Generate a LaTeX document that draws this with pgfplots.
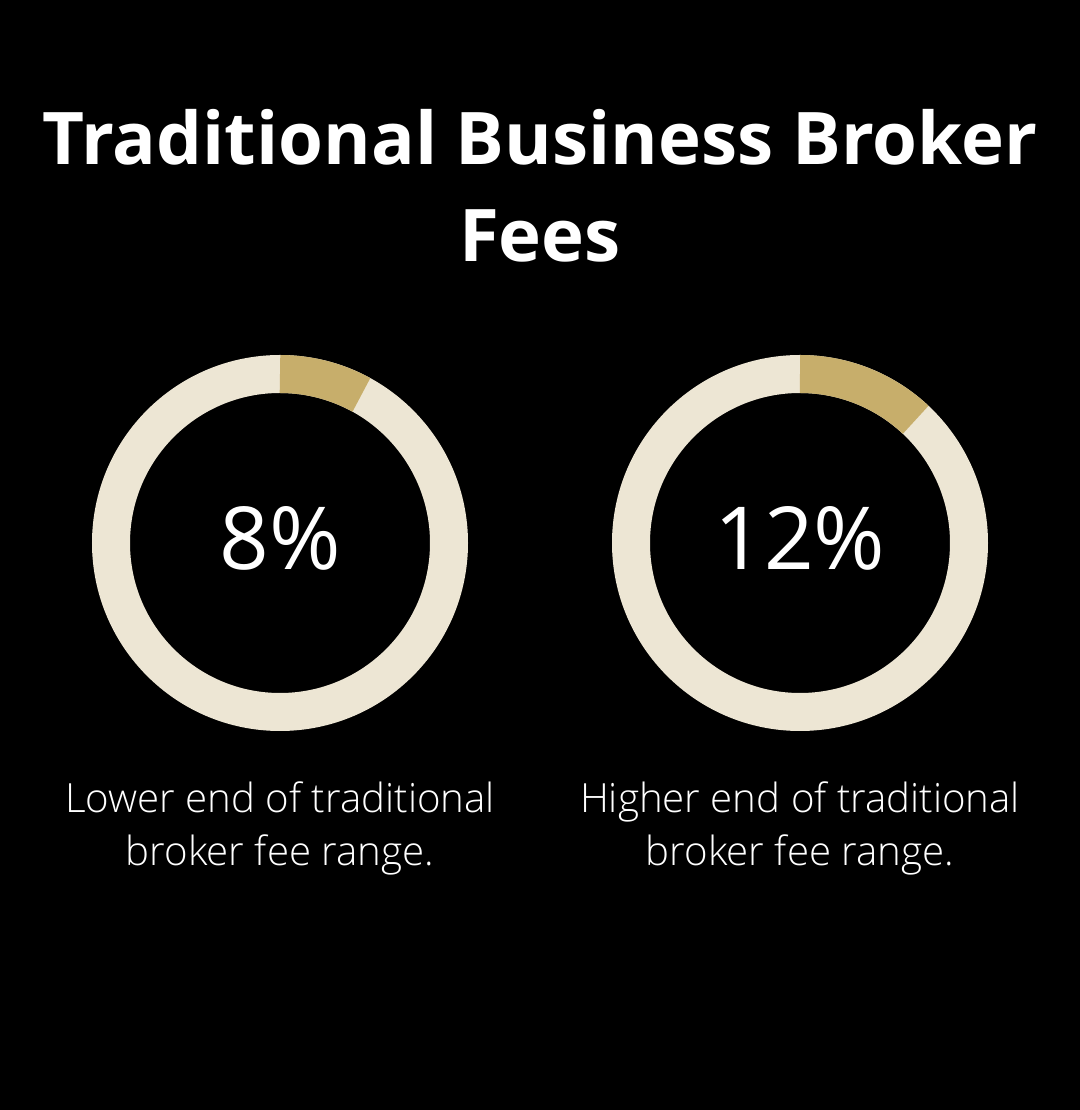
\documentclass[border=0pt]{standalone}
\usepackage{pgfplots}
\pgfplotsset{compat=1.18}
\usepackage{fontspec}
\setmainfont{Open Sans}
\newfontfamily\lightfont{Open Sans Light}
\definecolor{ringbg}{HTML}{EDE6D4}
\definecolor{ringfg}{HTML}{C7AE6B}

% share of each ring (percent)
\def\valA{8}
\def\valB{12}
\pgfmathsetmacro\endA{90-3.6*\valA}
\pgfmathsetmacro\endB{90-3.6*\valB}

\begin{document}
\begin{tikzpicture}
\begin{axis}[
  scale only axis, width=540pt, height=555pt,
  xmin=0, xmax=1080, ymin=0, ymax=1110,
  hide axis, clip=false,
]
\fill[black] (axis cs:0,0) rectangle (axis cs:1080,1110);

% title
\node[anchor=base, text=white, font=\bfseries\fontsize{36.3}{44}\selectfont]
  at (axis cs:540,945) {Traditional Business Broker};
\node[anchor=base, text=white, font=\bfseries\fontsize{36.3}{44}\selectfont]
  at (axis cs:540,848) {Fees};

% rings
\draw[ringbg, line width=19pt] (axis cs:280,567) circle[radius=84.5pt];
\draw[ringfg, line width=19pt] (axis cs:280,567) ++(90:84.5pt)
  arc[start angle=90, end angle=\endA, radius=84.5pt];
\draw[ringbg, line width=19pt] (axis cs:800,567) circle[radius=84.5pt];
\draw[ringfg, line width=19pt] (axis cs:800,567) ++(90:84.5pt)
  arc[start angle=90, end angle=\endB, radius=84.5pt];

% values
\node[anchor=base, text=white, font=\fontsize{43.5}{52}\selectfont]
  at (axis cs:280,540) {\valA\%};
\node[anchor=base, text=white, font=\fontsize{43.5}{52}\selectfont]
  at (axis cs:800,540) {\valB\%};

% captions
\node[anchor=base, text=white, font=\lightfont\fontsize{20.1}{26}\selectfont]
  at (axis cs:280,297) {Lower end of traditional};
\node[anchor=base, text=white, font=\lightfont\fontsize{20.1}{26}\selectfont]
  at (axis cs:280,244) {broker fee range.};
\node[anchor=base, text=white, font=\lightfont\fontsize{20.1}{26}\selectfont]
  at (axis cs:800,297) {Higher end of traditional};
\node[anchor=base, text=white, font=\lightfont\fontsize{20.1}{26}\selectfont]
  at (axis cs:800,244) {broker fee range.};
\end{axis}
\end{tikzpicture}
\end{document}
